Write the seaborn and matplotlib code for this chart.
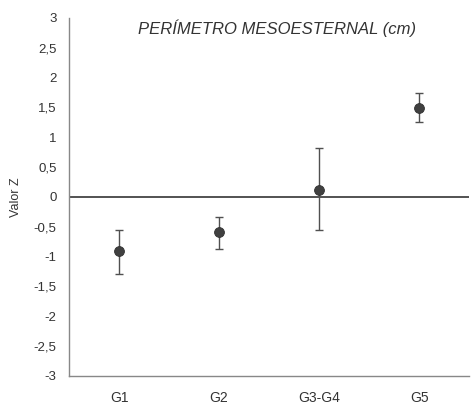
import matplotlib
matplotlib.use("Agg")
import matplotlib.pyplot as plt
import seaborn as sns
import pandas as pd
from matplotlib.ticker import FixedLocator

categories = ["G1", "G2", "G3-G4", "G5"]
z_values = [-0.91, -0.59, 0.12, 1.49]
err_low = [-1.29, -0.87, -0.55, 1.25]
err_high = [-0.55, -0.33, 0.82, 1.74]
y_ticks = [3, 2.5, 2, 1.5, 1, 0.5, 0, -0.5, -1, -1.5, -2, -2.5, -3]
y_tick_labels = ["3", "2,5", "2", "1,5", "1", "0,5", "0", "-0,5", "-1", "-1,5", "-2", "-2,5", "-3"]

sns.set_style("white")
plt.rcParams["font.family"] = ["Liberation Sans", "DejaVu Sans"]

df = pd.DataFrame({"grupo": categories, "z": z_values, "lo": err_low, "hi": err_high})
df["x"] = range(len(df))

fig = plt.figure(figsize=(4.73, 4.08), dpi=100)
ax = fig.add_axes([0.146, 0.079, 0.846, 0.877])

ax.axhline(0, color="#444444", lw=1.3, zorder=1)
ax.errorbar(df["x"], df["z"],
            yerr=[df["z"] - df["lo"], df["hi"] - df["z"]],
            fmt="none", ecolor="#505050", elinewidth=1.0, capsize=2.8, capthick=1.0, zorder=2)
sns.scatterplot(data=df, x="x", y="z", ax=ax, color="#404040", s=50,
                edgecolor="#303030", linewidth=0.6, zorder=3, legend=False)

ax.set_xlim(-0.5, 3.5)
ax.set_ylim(-3, 3)
ax.set_yticks(y_ticks)
ax.set_yticklabels(y_tick_labels)
ax.set_xticks(range(len(categories)))
ax.set_xticklabels(categories)
ax.xaxis.set_minor_locator(FixedLocator([0.5, 1.5, 2.5]))
ax.tick_params(axis="x", which="major", length=0, pad=11, labelsize=10, labelcolor="#333333")
ax.tick_params(axis="x", which="minor", length=3, direction="inout", color="#888888", width=0.8)
ax.tick_params(axis="y", which="major", length=4, direction="out", color="#888888",
               width=0.8, labelsize=9.5, labelcolor="#333333", pad=5)
ax.set_xlabel("")
ax.set_ylabel("Valor Z", fontsize=9, color="#333333", labelpad=8)

for side in ["top", "right"]:
    ax.spines[side].set_visible(False)
for side in ["left", "bottom"]:
    ax.spines[side].set_color("#888888")
    ax.spines[side].set_linewidth(1.0)

ax.text(0.519, 0.972, "PERÍMETRO MESOESTERNAL (cm)", transform=ax.transAxes,
        ha="center", va="center", fontsize=12, style="italic", color="#333333")

fig.savefig("out.png", dpi=100)
